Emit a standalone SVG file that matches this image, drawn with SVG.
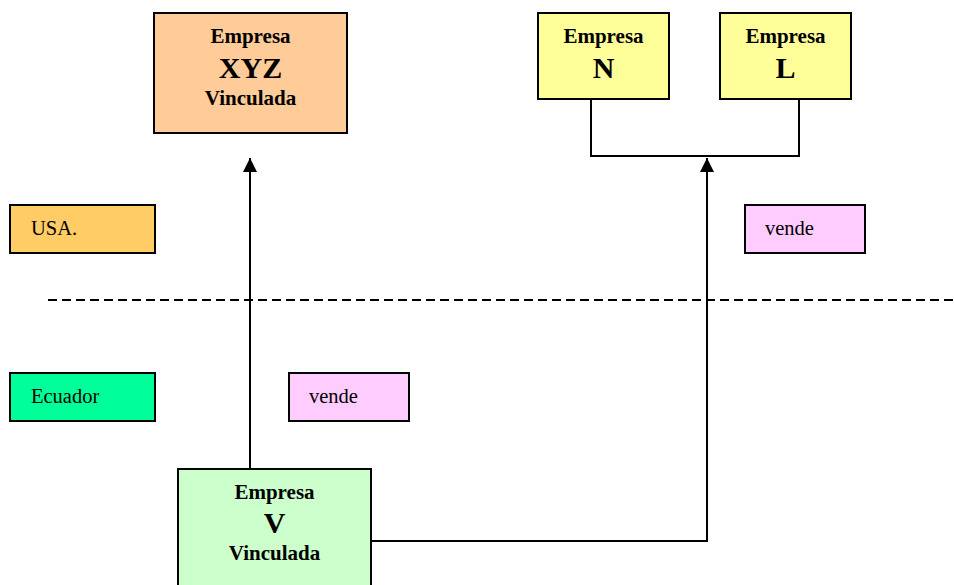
<svg xmlns="http://www.w3.org/2000/svg" width="954" height="585" viewBox="0 0 954 585">
  <style>
    .box { stroke: #000; stroke-width: 2; }
    .t { font-family: "Liberation Serif", "Times New Roman", serif; fill: #000; }
    .b { font-weight: bold; font-size: 21px; text-anchor: middle; }
    .big { font-weight: bold; font-size: 30px; text-anchor: middle; }
    .lbl { font-size: 20.5px; }
    .wire { fill: none; stroke: #000; stroke-width: 2; }
  </style>
  <defs>
    <marker id="arrow" viewBox="0 0 14 14" refX="14" refY="7" markerWidth="14" markerHeight="14" markerUnits="userSpaceOnUse" orient="auto">
      <path d="M0,0 L14,7 L0,14 Z" fill="#000"/>
    </marker>
  </defs>
  <rect width="954" height="585" fill="#fff"/>

  <!-- border between countries -->
  <line x1="48" y1="300" x2="954" y2="300" stroke="#000" stroke-width="2" stroke-dasharray="9,5"/>

  <g id="connectors">
    <path class="wire" d="M591,99 V156 H799 V99"/>
    <path class="wire" d="M250,469 V158" marker-end="url(#arrow)"/>
    <path class="wire" d="M371,541 H707 V158" marker-end="url(#arrow)"/>
  </g>

  <g id="xyz">
    <rect class="box" x="154" y="13" width="193" height="120" fill="#FFCC99"/>
    <text class="t b" x="250.5" y="43">Empresa</text>
    <text class="t big" x="250.5" y="78">XYZ</text>
    <text class="t b" x="250.5" y="105">Vinculada</text>
  </g>

  <g id="empresa-n">
    <rect class="box" x="538" y="13" width="131" height="86" fill="#FFFF99"/>
    <text class="t b" x="603.5" y="43">Empresa</text>
    <text class="t big" x="603.5" y="78">N</text>
  </g>

  <g id="empresa-l">
    <rect class="box" x="720" y="13" width="131" height="86" fill="#FFFF99"/>
    <text class="t b" x="785.5" y="43">Empresa</text>
    <text class="t big" x="785.5" y="78">L</text>
  </g>

  <g id="usa">
    <rect class="box" x="10" y="205" width="145" height="48" fill="#FFCC66"/>
    <text class="t lbl" x="31" y="235">USA.</text>
  </g>

  <g id="vende-usa">
    <rect class="box" x="745" y="205" width="120" height="48" fill="#FFCCFF"/>
    <text class="t lbl" x="765" y="235">vende</text>
  </g>

  <g id="ecuador">
    <rect class="box" x="10" y="373" width="145" height="48" fill="#00FF99"/>
    <text class="t lbl" x="31" y="403">Ecuador</text>
  </g>

  <g id="vende-ecuador">
    <rect class="box" x="289" y="373" width="120" height="48" fill="#FFCCFF"/>
    <text class="t lbl" x="309" y="403">vende</text>
  </g>

  <g id="empresa-v">
    <rect class="box" x="178" y="469" width="193" height="130" fill="#CCFFCC"/>
    <text class="t b" x="274.5" y="499">Empresa</text>
    <text class="t big" x="274.5" y="533">V</text>
    <text class="t b" x="274.5" y="560">Vinculada</text>
  </g>
</svg>
